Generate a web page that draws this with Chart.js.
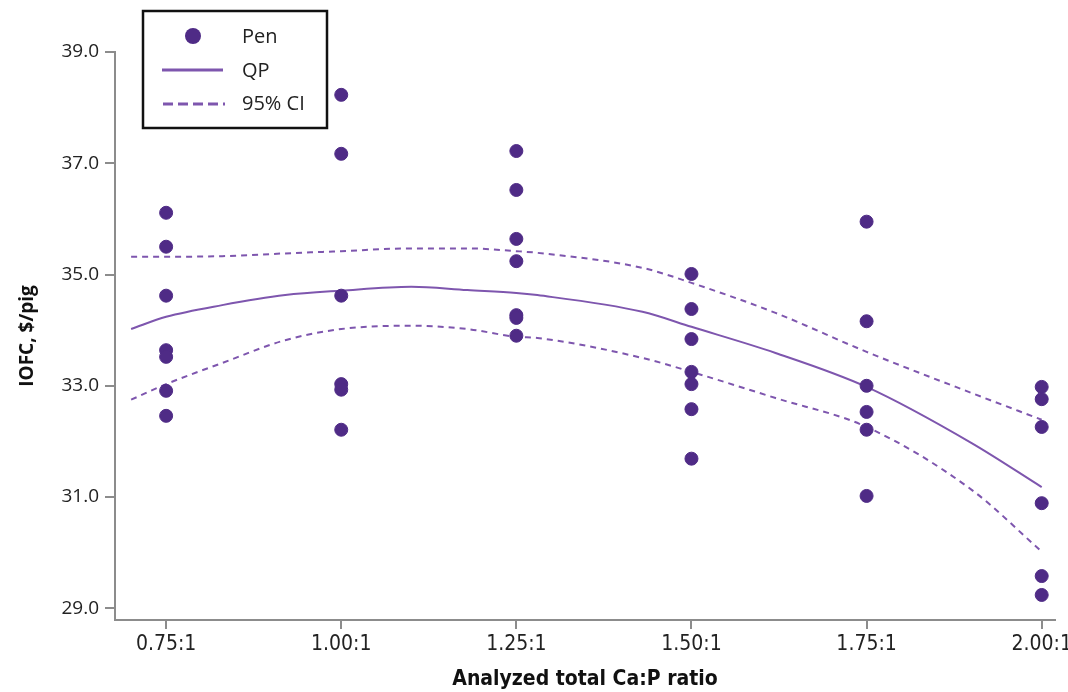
<!DOCTYPE html>
<html>
<head>
<meta charset="utf-8">
<script src="https://cdn.jsdelivr.net/npm/chart.js@4.4.0/dist/chart.umd.min.js"></script>
<style>
  html, body { margin: 0; padding: 0; background: #fff; }
  #wrap { width: 1068px; height: 692px; position: relative; }
</style>
</head>
<body>
<div id="wrap"><canvas id="chart"></canvas></div>
<script>
// ratios on the x axis
const ratios = [0.75, 1.00, 1.25, 1.50, 1.75, 2.00];
const tickLabelsY = [29, 31, 33, 35, 37, 39];

// pen values (IOFC, $/pig) at each ratio
const pen075 = [36.11, 35.50, 34.62, 33.64, 33.52, 32.91, 32.46];
const pen100 = [38.23, 37.17, 34.62, 33.03, 32.93, 32.21];
const pen125 = [37.22, 36.52, 35.64, 35.24, 34.27, 34.22, 33.90];
const pen150 = [35.01, 34.38, 33.84, 33.25, 33.03, 32.58, 31.69];
const pen175 = [35.95, 34.16, 33.00, 32.53, 32.21, 31.02];
const pen200 = [32.98, 32.76, 32.26, 30.89, 29.58, 29.24];

// fitted quadratic plateau curve and its 95% CI
const curveX = [0.70, 0.75, 0.83, 0.92, 1.00, 1.10, 1.18, 1.25, 1.28, 1.43, 1.50, 1.62, 1.75, 1.90, 2.00];
const qpY    = [34.02, 34.24, 34.45, 34.63, 34.71, 34.78, 34.72, 34.67, 34.63, 34.33, 34.06, 33.59, 32.98, 31.97, 31.18];
const ciUpY  = [35.32, 35.32, 35.33, 35.38, 35.42, 35.47, 35.47, 35.42, 35.39, 35.12, 34.85, 34.31, 33.61, 32.87, 32.39];
const ciLoY  = [32.75, 33.03, 33.41, 33.82, 34.02, 34.08, 34.02, 33.88, 33.86, 33.50, 33.25, 32.78, 32.26, 31.13, 30.02];

const penGroups = [pen075, pen100, pen125, pen150, pen175, pen200];
const penPoints = [];
penGroups.forEach((g, i) => g.forEach(v => penPoints.push({ x: ratios[i], y: v })));
const toXY = (ys) => curveX.map((x, i) => ({ x: x, y: ys[i] }));

const dotColor = "#4f2b86";
const lineColor = "#7e56ae";
const narrow = "'Liberation Sans Narrow', 'DejaVu Sans Condensed', sans-serif";
const plain = "'Open Sans', 'Noto Sans', sans-serif";

const legendBox = {
  id: "legendBox",
  afterDraw(chart) {
    const ctx = chart.ctx;
    ctx.save();
    ctx.strokeStyle = "#111";
    ctx.lineWidth = 2.5;
    ctx.strokeRect(143, 11, 184, 117);
    ctx.fillStyle = dotColor;
    ctx.beginPath();
    ctx.arc(193, 36, 8, 0, Math.PI * 2);
    ctx.fill();
    ctx.strokeStyle = lineColor;
    ctx.lineWidth = 3;
    ctx.beginPath();
    ctx.moveTo(162, 70); ctx.lineTo(223, 70);
    ctx.stroke();
    ctx.setLineDash([10, 5]);
    ctx.beginPath();
    ctx.moveTo(163, 104); ctx.lineTo(225, 104);
    ctx.stroke();
    ctx.setLineDash([]);
    ctx.fillStyle = "#222";
    ctx.font = "20px " + plain;
    ctx.textBaseline = "middle";
    ctx.fillText("Pen", 242, 37);
    ctx.fillText("QP", 242, 71);
    ctx.fillText("95% CI", 242, 104);
    ctx.restore();
  }
};

const ctx = document.getElementById("chart").getContext("2d");
new Chart(ctx, {
  type: "scatter",
  data: {
    datasets: [
      {
        label: "Pen",
        data: penPoints,
        backgroundColor: dotColor,
        borderColor: dotColor,
        pointRadius: 6.5,
        pointHoverRadius: 6.5,
        order: 0,
      },
      {
        label: "QP",
        type: "line",
        data: toXY(qpY),
        borderColor: lineColor,
        borderWidth: 2,
        pointRadius: 0,
        cubicInterpolationMode: "monotone",
        fill: false,
        order: 1,
      },
      {
        label: "95% CI",
        type: "line",
        data: toXY(ciUpY),
        borderColor: lineColor,
        borderWidth: 2,
        borderDash: [6, 5],
        pointRadius: 0,
        cubicInterpolationMode: "monotone",
        fill: false,
        order: 1,
      },
      {
        label: "95% CI lower",
        type: "line",
        data: toXY(ciLoY),
        borderColor: lineColor,
        borderWidth: 2,
        borderDash: [6, 5],
        pointRadius: 0,
        cubicInterpolationMode: "monotone",
        fill: false,
        order: 1,
      },
    ],
  },
  options: {
    responsive: true,
    maintainAspectRatio: false,
    animation: false,
    layout: { padding: { left: 0, top: 52, right: 13, bottom: 0 } },
    plugins: {
      legend: { display: false },
      tooltip: { enabled: false },
    },
    scales: {
      x: {
        type: "linear",
        min: 0.677,
        max: 2.019,
        afterBuildTicks: (scale) => { scale.ticks = ratios.map(v => ({ value: v })); },
        afterFit: (scale) => { scale.height = 72; scale.paddingLeft = 0; scale.paddingRight = 0; },
        border: { color: "#8c8c8c", width: 2 },
        grid: { drawOnChartArea: false, drawTicks: true, tickLength: 9, color: "#8c8c8c", lineWidth: 2 },
        ticks: {
          color: "#222",
          padding: 3,
          font: { family: narrow, size: 21 },
          callback: (v) => Number(v).toFixed(2) + ":1",
        },
        title: {
          display: true,
          text: "Analyzed total Ca:P ratio",
          color: "#111",
          padding: { top: 4, bottom: 0 },
          font: { family: narrow, size: 21, weight: "bold" },
        },
      },
      y: {
        min: 28.79,
        max: 39,
        afterBuildTicks: (scale) => { scale.ticks = tickLabelsY.map(v => ({ value: v })); },
        afterFit: (scale) => { scale.width = 115; },
        border: { color: "#8c8c8c", width: 2 },
        grid: { drawOnChartArea: false, drawTicks: true, tickLength: 10, color: "#8c8c8c", lineWidth: 2 },
        ticks: {
          color: "#222",
          padding: 6,
          font: { family: plain, size: 19 },
          callback: (v) => Number(v).toFixed(1),
        },
        title: {
          display: true,
          text: "IOFC, $/pig",
          color: "#111",
          padding: { top: 16, bottom: 0 },
          font: { family: plain, size: 19, weight: "bold" },
        },
      },
    },
  },
  plugins: [legendBox],
});
</script>
</body>
</html>
